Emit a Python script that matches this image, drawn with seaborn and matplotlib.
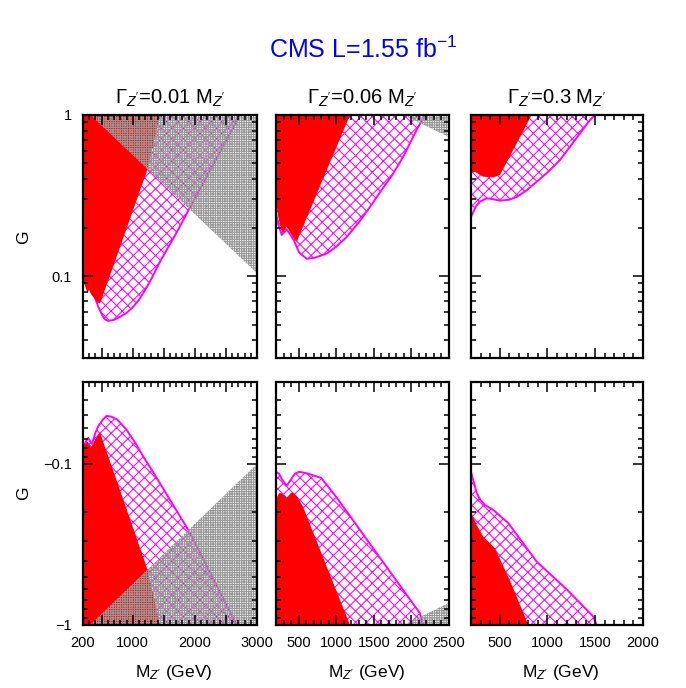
import matplotlib
matplotlib.use("Agg")
import matplotlib.pyplot as plt
import seaborn as sns
import numpy as np
from matplotlib.ticker import (FixedLocator, FixedFormatter, LogLocator,
                               NullFormatter, MultipleLocator)

# ---------------------------------------------------------------- data
title_text = r"CMS L=1.55 fb$^{-1}$"
panel_titles = [r"$\Gamma_{Z'}$=0.01 M$_{Z'}$",
                r"$\Gamma_{Z'}$=0.06 M$_{Z'}$",
                r"$\Gamma_{Z'}$=0.3 M$_{Z'}$"]
x_label_text = r"M$_{Z'}$ (GeV)"
y_label_text = "G"

x_limits = [(200, 3000), (200, 2500), (200, 2000)]
x_ticks_001 = [200, 500, 1000, 1500, 2000, 2500, 3000]
x_ticklabels_001 = ["200", "", "1000", "", "2000", "", "3000"]
x_ticks_006 = [500, 1000, 1500, 2000, 2500]
x_ticklabels_006 = ["500", "1000", "1500", "2000", "2500"]
x_ticks_03 = [500, 1000, 1500, 2000]
x_ticklabels_03 = ["500", "1000", "1500", "2000"]
y_ticks = [0.1, 1.0]
y_ticklabels_pos = ["0.1", "1"]
y_ticklabels_neg = ["\u22120.1", "\u22121"]

# ---- Gamma = 0.01 M, G > 0
x_red_top_001 = [200, 240, 270, 300, 330, 380, 430, 474, 700, 950, 1225, 1440]
g_red_top_001 = [0.095, 0.085, 0.079, 0.082, 0.077, 0.073, 0.069, 0.0675, 0.119, 0.223, 0.444, 1.0]
x_mag_top_001 = [200, 250, 300, 350, 400, 450, 500, 550, 605, 700, 800, 900, 1000, 1100,
                 1200, 1300, 1450, 1600, 1750, 1900, 2100, 2300, 2500, 2726]
g_mag_top_001 = [0.105, 0.095, 0.087, 0.080, 0.072, 0.064, 0.058, 0.054, 0.0527, 0.0535, 0.056,
                 0.059, 0.064, 0.071, 0.082, 0.096, 0.125, 0.158, 0.20, 0.257, 0.357, 0.497, 0.689, 1.0]
x_gray_top_001 = [320, 3000]
g_gray_top_001 = [1.0, 0.104]

# ---- Gamma = 0.01 M, G < 0
x_red_bot_001 = [200, 240, 270, 300, 330, 400, 474, 700, 950, 1235, 1440]
g_red_bot_001 = [-0.080, -0.075, -0.0726, -0.076, -0.079, -0.070, -0.064, -0.114, -0.216, -0.449, -1.0]
x_mag_bot_001 = [200, 250, 285, 320, 345, 400, 450, 520, 581, 650, 750, 903, 1050, 1170,
                 1300, 1439, 1650, 1895, 2100, 2300, 2500, 2673]
g_mag_bot_001 = [-0.080, -0.072, -0.069, -0.073, -0.075, -0.064, -0.058, -0.053, -0.0503, -0.0508,
                 -0.053, -0.0615, -0.075, -0.090, -0.108, -0.132, -0.180, -0.257, -0.367, -0.521,
                 -0.74, -1.0]
x_gray_bot_001 = [313, 3000]
g_gray_bot_001 = [-1.0, -0.1]

# ---- Gamma = 0.06 M, G > 0
x_red_top_006 = [200, 225, 253, 289, 342, 409, 475, 650, 829, 1000, 1184]
g_red_top_006 = [0.30, 0.24, 0.207, 0.184, 0.202, 0.18, 0.163, 0.255, 0.404, 0.625, 1.0]
x_mag_top_006 = [200, 230, 276, 342, 400, 442, 508, 608, 718, 874, 1000, 1140, 1300, 1450,
                 1600, 1760, 1900, 2070, 2180]
g_mag_top_006 = [0.245, 0.21, 0.18, 0.195, 0.178, 0.165, 0.14, 0.128, 0.130, 0.138, 0.152, 0.175,
                 0.215, 0.269, 0.34, 0.434, 0.56, 0.81, 1.0]
x_gray_top_006 = [1893, 2500]
g_gray_top_006 = [1.0, 0.73]

# ---- Gamma = 0.06 M, G < 0
x_red_bot_006 = [200, 240, 276, 341, 400, 440, 480, 558, 700, 900, 1184]
g_red_bot_006 = [-0.165, -0.152, -0.152, -0.163, -0.151, -0.152, -0.160, -0.184, -0.27, -0.465, -1.0]
x_mag_bot_006 = [200, 240, 280, 341, 400, 450, 508, 600, 700, 800, 1000, 1316, 1600, 1900, 2113, 2157]
g_mag_bot_006 = [-0.112, -0.115, -0.125, -0.137, -0.125, -0.115, -0.112, -0.114, -0.118, -0.122,
                 -0.16, -0.257, -0.393, -0.615, -0.845, -1.0]
x_gray_bot_006 = [1893, 2500]
g_gray_bot_006 = [-1.0, -0.73]

# ---- Gamma = 0.3 M, G > 0
x_red_top_03 = [200, 242, 290, 329, 433, 503, 570, 642, 740, 835]
g_red_top_03 = [0.434, 0.445, 0.425, 0.414, 0.41, 0.424, 0.504, 0.607, 0.78, 1.0]
x_mag_top_03 = [200, 250, 294, 364, 430, 503, 600, 678, 780, 887, 1000, 1131, 1300, 1445, 1498]
g_mag_top_03 = [0.233, 0.27, 0.29, 0.304, 0.30, 0.294, 0.298, 0.31, 0.34, 0.385, 0.44, 0.525,
                0.714, 0.93, 1.0]

# ---- Gamma = 0.3 M, G < 0
x_red_bot_03 = [200, 260, 329, 399, 451, 608, 800]
g_red_bot_03 = [-0.198, -0.24, -0.283, -0.311, -0.334, -0.53, -1.0]
x_mag_bot_03 = [200, 230, 260, 300, 346, 433, 590, 887, 1200, 1480, 1515]
g_mag_bot_03 = [-0.112, -0.13, -0.152, -0.168, -0.18, -0.193, -0.233, -0.404, -0.60, -0.887, -1.0]

# ---------------------------------------------------------------- style
sns.set_theme(style="ticks")
plt.rcParams['font.family'] = ['Liberation Sans', 'DejaVu Sans']
plt.rcParams['mathtext.fontset'] = 'custom'
plt.rcParams['mathtext.rm'] = 'Liberation Sans'
plt.rcParams['mathtext.it'] = 'Liberation Sans:italic'
plt.rcParams['mathtext.bf'] = 'Liberation Sans:bold'
plt.rcParams['hatch.linewidth'] = 0.75
plt.rcParams['text.color'] = 'black'
plt.rcParams['axes.labelcolor'] = 'black'
plt.rcParams['xtick.color'] = 'black'
plt.rcParams['ytick.color'] = 'black'

RED = '#ff0000'
MAG = '#ff00ff'
GRAY = '#979797'

W, H = 686, 688
fig = plt.figure(figsize=(W / 100, H / 100), dpi=100)

col_px = [(83, 257), (276, 449), (471, 643)]
row_px = [(115, 358), (382, 625)]
Y_MIN = 0.031

panels = {
    (0, 0): (x_red_top_001, g_red_top_001, x_mag_top_001, g_mag_top_001, x_gray_top_001, g_gray_top_001),
    (0, 1): (x_red_top_006, g_red_top_006, x_mag_top_006, g_mag_top_006, x_gray_top_006, g_gray_top_006),
    (0, 2): (x_red_top_03, g_red_top_03, x_mag_top_03, g_mag_top_03, None, None),
    (1, 0): (x_red_bot_001, g_red_bot_001, x_mag_bot_001, g_mag_bot_001, x_gray_bot_001, g_gray_bot_001),
    (1, 1): (x_red_bot_006, g_red_bot_006, x_mag_bot_006, g_mag_bot_006, x_gray_bot_006, g_gray_bot_006),
    (1, 2): (x_red_bot_03, g_red_bot_03, x_mag_bot_03, g_mag_bot_03, None, None),
}
x_tick_sets = [(x_ticks_001, x_ticklabels_001), (x_ticks_006, x_ticklabels_006),
               (x_ticks_03, x_ticklabels_03)]

for (r, c), (xr, gr, xm, gm, xg, gg) in panels.items():
    x0, x1 = col_px[c]
    y0, y1 = row_px[r]
    ax = fig.add_axes([x0 / W, 1 - y1 / H, (x1 - x0) / W, (y1 - y0) / H])
    ax.set_yscale('log')
    ax.set_axisbelow(False)

    gm_abs = np.abs(np.array(gm, float))
    gr_abs = np.abs(np.array(gr, float))
    ax.fill_between(xm, gm_abs, 1.0, facecolor='none', edgecolor=MAG, hatch='xxx',
                    linewidth=0, zorder=1)
    sns.lineplot(x=xm, y=gm_abs, ax=ax, color=MAG, lw=1.4, sort=False,
                 estimator=None, zorder=1.5)
    ax.fill_between(xr, gr_abs, 1.0, facecolor=RED, edgecolor='none', linewidth=0, zorder=2)
    if xg is not None:
        with plt.rc_context({'hatch.linewidth': 0.8}):
            coll = ax.fill_between(xg, np.abs(np.array(gg, float)), 1.0, facecolor='none',
                                   edgecolor=GRAY, hatch='+++++++', linewidth=0, zorder=2.2)
        if hasattr(coll, 'set_hatch_linewidth'):
            coll.set_hatch_linewidth(0.8)

    ax.set_xlim(*x_limits[c])
    if r == 0:
        ax.set_ylim(Y_MIN, 1.0)
    else:
        ax.set_ylim(1.0, Y_MIN)
    ax.set_xlabel('')
    ax.set_ylabel('')

    ax.yaxis.set_major_locator(FixedLocator(y_ticks))
    ax.yaxis.set_minor_locator(LogLocator(base=10, subs=np.arange(2, 10)))
    ax.yaxis.set_minor_formatter(NullFormatter())
    if c == 0:
        ax.yaxis.set_major_formatter(FixedFormatter(y_ticklabels_pos if r == 0 else y_ticklabels_neg))
    else:
        ax.yaxis.set_major_formatter(NullFormatter())

    ticks, labels = x_tick_sets[c]
    ax.xaxis.set_major_locator(FixedLocator(ticks))
    ax.xaxis.set_minor_locator(MultipleLocator(100))
    if r == 1:
        ax.xaxis.set_major_formatter(FixedFormatter(labels))
    else:
        ax.xaxis.set_major_formatter(NullFormatter())
    ax.xaxis.set_minor_formatter(NullFormatter())

    ax.tick_params(which='both', direction='in', top=True, right=True, bottom=True, left=True,
                   color='black', width=1.1, labelsize=10.5, labelcolor='black')
    ax.tick_params(which='major', length=7.5)
    ax.tick_params(which='minor', length=3.8)
    ax.tick_params(axis='x', which='major', pad=8)
    ax.tick_params(axis='y', which='major', pad=8)
    for s in ax.spines.values():
        s.set_visible(True)
        s.set_linewidth(1.6)
        s.set_color('black')
        s.set_zorder(3)
    ax.set_facecolor('white')

# texts
fig.text(363 / W, 1 - 50 / H, title_text, ha='center', va='center', color='#0000ff', fontsize=18)
for c in range(3):
    x0, x1 = col_px[c]
    cx = (x0 + x1) / 2
    fig.text(cx / W, 1 - 98 / H, panel_titles[c], ha='center', va='center', fontsize=14.5,
             color='black')
    fig.text((cx + 4) / W, 1 - 672 / H, x_label_text, ha='center', va='center', fontsize=12.5,
             color='black')
fig.text(24 / W, 1 - 237 / H, y_label_text, ha='center', va='center', rotation=90, fontsize=12.5,
         color='black')
fig.text(24 / W, 1 - 493 / H, y_label_text, ha='center', va='center', rotation=90, fontsize=12.5,
         color='black')

fig.savefig('out.png', dpi=100, facecolor='white')
